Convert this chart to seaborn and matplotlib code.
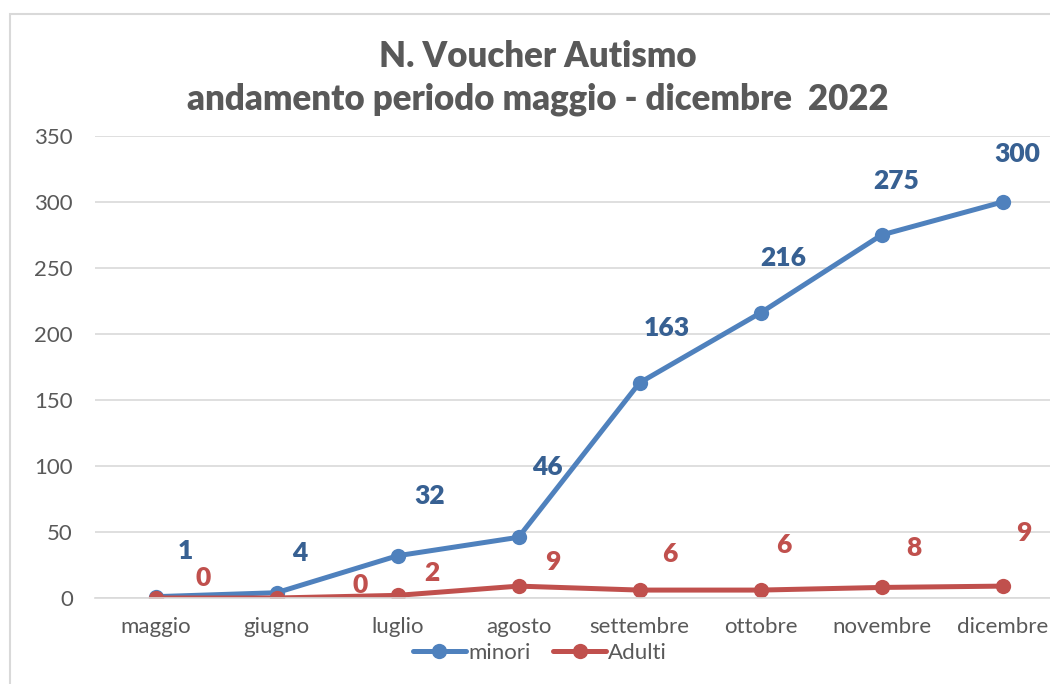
import matplotlib
matplotlib.use("Agg")
import matplotlib.pyplot as plt
import seaborn as sns
import pandas as pd
from matplotlib.patches import Rectangle

months = ["maggio", "giugno", "luglio", "agosto", "settembre", "ottobre", "novembre", "dicembre"]
minori = [1, 4, 32, 46, 163, 216, 275, 300]
adulti = [0, 0, 2, 9, 6, 6, 8, 9]
y_ticks = [0, 50, 100, 150, 200, 250, 300, 350]
title = "N. Voucher Autismo\nandamento periodo maggio - dicembre  2022"

# label offsets in pixels (style only)
off_minori = [(30, 46), (23, 40), (32, 60), (29, 70), (27, 55), (23, 55), (15, 54), (15, 48)]
off_adulti = [(48, 20), (84, 13), (34, 22), (34, 24), (30, 36), (23, 45), (32, 39), (21, 53)]

sns.set_theme(style="white")
plt.rcParams["font.family"] = ["Lato", "DejaVu Sans"]

df = pd.DataFrame({
    "mese": months * 2,
    "valore": minori + adulti,
    "serie": ["minori"] * len(months) + ["Adulti"] * len(months),
})

blue = "#4F81BD"
red = "#C0504D"
gray = "#595959"

fig = plt.figure(figsize=(10.5, 6.84), dpi=100)
fig.patch.set_facecolor("white")
fig.add_artist(Rectangle((10 / 1050, -0.1), 1.2, 1 - 14 / 684 + 0.1, transform=fig.transFigure,
                         fill=False, edgecolor="#D9D9D9", linewidth=1.5))
ax = fig.add_axes([95 / 1050, 1 - 598 / 684, 968 / 1050, 462 / 684])

sns.lineplot(data=df, x="mese", y="valore", hue="serie", palette={"minori": blue, "Adulti": red},
             marker="o", markersize=11, markeredgewidth=0, linewidth=3.6, ax=ax, sort=False)

ax.set_xlim(-0.5, len(months) - 0.5)
ax.set_ylim(0, 350)
ax.set_yticks(y_ticks)
ax.yaxis.grid(True, color="#D9D9D9", linewidth=1.2)
ax.set_axisbelow(True)
for s in ["top", "right", "left"]:
    ax.spines[s].set_visible(False)
ax.spines["bottom"].set_color("#D9D9D9")
ax.spines["bottom"].set_linewidth(1.2)
ax.tick_params(axis="both", length=0, labelsize=16, colors=gray)
ax.tick_params(axis="x", pad=14)
ax.tick_params(axis="y", pad=16)
ax.set_xlabel("")
ax.set_ylabel("")

for i, v in enumerate(minori):
    ax.annotate(str(v), (i, v), xytext=off_minori[i], textcoords="offset pixels",
                ha="center", va="center", fontsize=19, fontweight="heavy", color="#376092")
for i, v in enumerate(adulti):
    ax.annotate(str(v), (i, v), xytext=off_adulti[i], textcoords="offset pixels",
                ha="center", va="center", fontsize=19, fontweight="heavy", color=red)

ax.legend_.remove()
handles, labels = ax.get_legend_handles_labels()
fig.legend(handles, labels, loc="center", bbox_to_anchor=(540 / 1050, 1 - 653 / 684), ncol=2,
           frameon=False, fontsize=16, labelcolor=gray, handlelength=2.4, handletextpad=0.1,
           columnspacing=1.0)

fig.text(538 / 1050, 1 - 78 / 684, title, ha="center", va="center", fontsize=25,
         fontweight="heavy", color=gray, linespacing=1.35)

fig.savefig("out.png", dpi=100)
